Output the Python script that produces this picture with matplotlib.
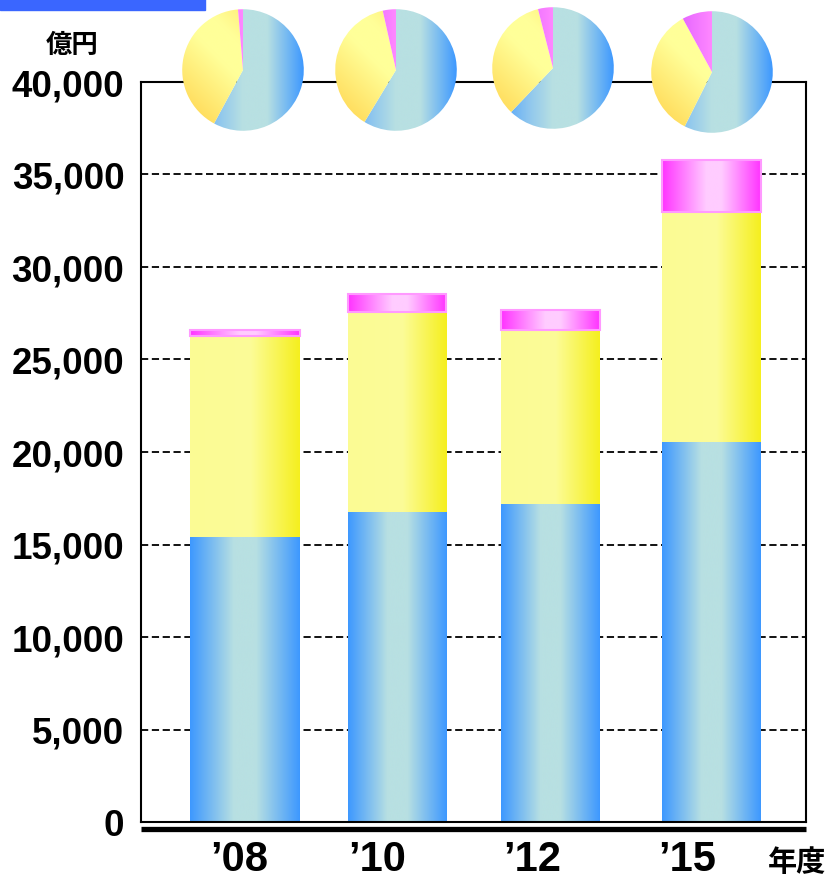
import numpy as np
import matplotlib
matplotlib.use("Agg")
import matplotlib.pyplot as plt
from matplotlib.colors import LinearSegmentedColormap
from matplotlib.patches import Rectangle

# 年度別の内訳（億円）
years = ["’08", "’10", "’12", "’15"]
blue_vals = [15400, 16750, 17200, 20550]
yellow_vals = [10850, 10800, 9400, 12400]
magenta_vals = [350, 1000, 1100, 2850]
y_ticks = [0, 5000, 10000, 15000, 20000, 25000, 30000, 35000, 40000]

# layout (pixels on a 827x879 canvas)
W, H = 827, 879
bar_x = [0.0, 1.0, 2.01, 3.07]
bar_w = [0.72, 0.65, 0.65, 0.65]
label_x = [-0.04, 0.87, 1.89, 2.91]
pie_centers = [(243, 71), (396, 71), (553, 69), (712, 73)]
pie_r = 62

blue_cmap = LinearSegmentedColormap.from_list(
    "blue", [(0, "#3d98ff"), (0.4, "#b8e0e2"), (0.6, "#b8e0e2"), (1, "#3d98ff")])
yellow_cmap = LinearSegmentedColormap.from_list(
    "yellow", [(0, "#fbfb94"), (0.55, "#fcfc98"), (1, "#f5ef1e")])
magenta_cmap = LinearSegmentedColormap.from_list(
    "magenta", [(0, "#ff33ff"), (0.45, "#ffccff"), (0.6, "#ffccff"), (1, "#ff33ff")])

pie_blue = LinearSegmentedColormap.from_list(
    "pblue", [(0, "#3d98ff"), (0.3, "#8ec6ee"), (0.5, "#b8e0e2"), (0.7, "#b8e0e2"), (1, "#3d98ff")])
pie_yellow = LinearSegmentedColormap.from_list(
    "pyellow", [(0, "#ffcf45"), (0.45, "#ffff99"), (0.6, "#ffff99"), (1, "#ffd64e")])
pie_magenta = LinearSegmentedColormap.from_list(
    "pmag", [(0, "#cc44ff"), (0.5, "#ff88ff"), (1, "#ff99ff")])


def gradient_fill(ax, patch, cmap, zorder):
    x0, y0 = patch.get_x(), patch.get_y()
    w, h = patch.get_width(), patch.get_height()
    grad = np.linspace(0, 1, 256).reshape(1, -1)
    im = ax.imshow(grad, cmap=cmap, extent=(x0, x0 + w, y0, y0 + h),
                   aspect="auto", origin="lower", zorder=zorder,
                   interpolation="bicubic")
    im.set_clip_path(patch)


fig = plt.figure(figsize=(W / 100, H / 100), dpi=100)

# blue band in the corner
fig.patches.append(Rectangle((0, 1 - 11 / H), 205 / W, 11 / H,
                             transform=fig.transFigure, color="#3a66ff"))

ax = fig.add_axes([141 / W, (H - 823) / H, 665 / W, 740 / H])

bottom = np.zeros(len(years))
for vals, cmap, edge in [(blue_vals, blue_cmap, None),
                         (yellow_vals, yellow_cmap, None),
                         (magenta_vals, magenta_cmap, "#ff99ff")]:
    bars = ax.bar(bar_x, vals, width=bar_w, bottom=bottom,
                  facecolor="none", edgecolor="none", zorder=3)
    for b in bars:
        gradient_fill(ax, b, cmap, 2)
        if edge:
            b.set_edgecolor(edge)
            b.set_linewidth(1.5)
    bottom += np.array(vals)

ax.set_xlim(-0.684, 3.691)
ax.set_ylim(0, 40000)
ax.set_xticks([])
ax.set_yticks(y_ticks)
ax.set_yticklabels([f"{v:,}" for v in y_ticks], fontsize=26.5,
                   fontweight="bold", family="Liberation Sans")
ax.tick_params(axis="y", length=0, pad=12)
ax.yaxis.grid(True, linestyle=(0, (4, 2)), color="black", linewidth=1.3)
ax.set_axisbelow(True)
for s in ax.spines.values():
    s.set_linewidth(1.5)

# heavy base line under the plot frame
ax.plot([0, 1], [-0.009, -0.009], transform=ax.transAxes, color="black",
        lw=3.8, clip_on=False, solid_capstyle="butt")

for lx, yr in zip(label_x, years):
    ax.text(lx, -0.05, yr, transform=ax.get_xaxis_transform(),
            ha="center", va="center", fontsize=30, fontweight="bold",
            family="Liberation Sans")

fig.text(72 / W, 1 - 45 / H, "億円", ha="center", va="center",
         fontsize=19, fontweight="bold", family="Noto Sans CJK JP")
fig.text(797 / W, 1 - 862 / H, "年度", ha="center", va="center",
         fontsize=21, fontweight="bold", family="Noto Sans CJK JP")

# share pies above each bar
xx, yy = np.meshgrid(np.linspace(0, 1, 200), np.linspace(0, 1, 200))
diag = (xx + yy) / 2
for (cx, cy), b, y, m in zip(pie_centers, blue_vals, yellow_vals, magenta_vals):
    pax = fig.add_axes([(cx - pie_r) / W, (H - cy - pie_r) / H,
                        2 * pie_r / W, 2 * pie_r / H])
    wedges, _ = pax.pie([b, y, m], startangle=90, counterclock=False,
                        radius=1, wedgeprops=dict(linewidth=0))
    for wdg, cmap, data in [(wedges[0], pie_blue, np.linspace(0, 1, 256).reshape(1, -1)),
                            (wedges[1], pie_yellow, diag),
                            (wedges[2], pie_magenta, np.linspace(0, 1, 256).reshape(1, -1))]:
        wdg.set_facecolor("none")
        im = pax.imshow(data, cmap=cmap, extent=(-1, 1, -1, 1),
                        origin="lower", interpolation="bicubic")
        im.set_clip_path(wdg)
    pax.set_xlim(-1.02, 1.02)
    pax.set_ylim(-1.02, 1.02)
    pax.set_aspect("equal")
    pax.axis("off")

fig.savefig("out.png", dpi=100)
